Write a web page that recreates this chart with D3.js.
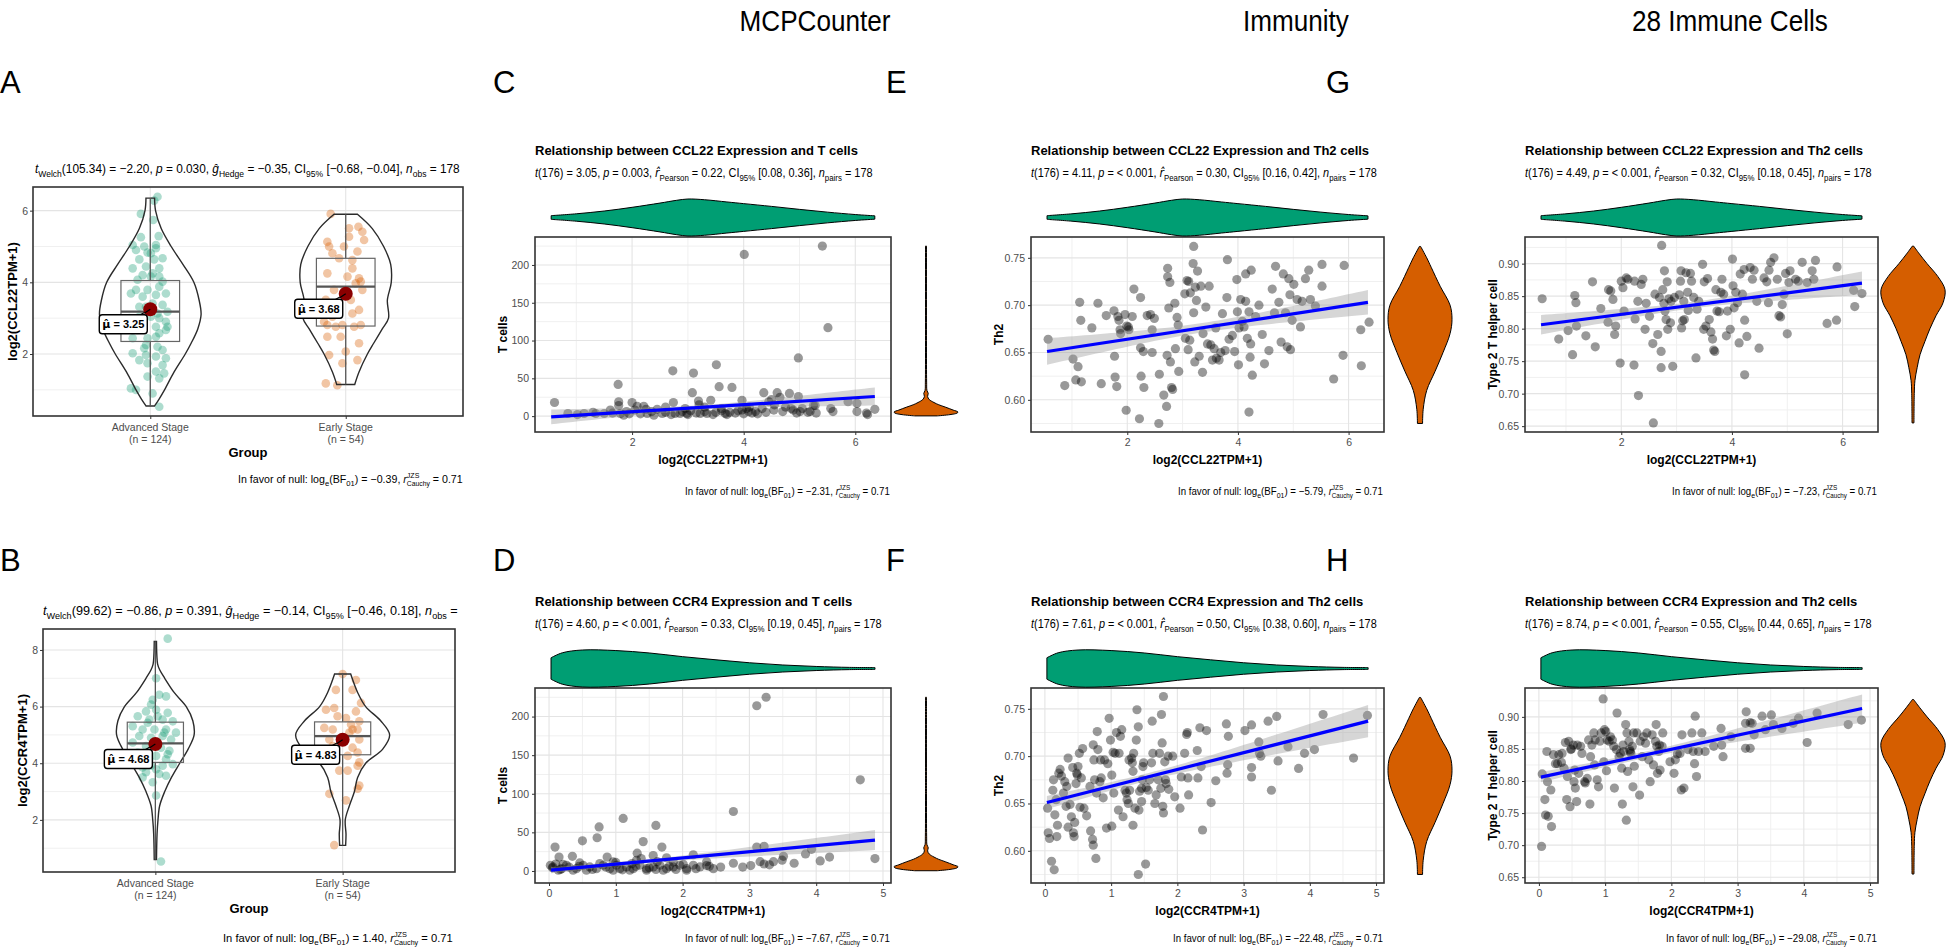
<!DOCTYPE html>
<html><head><meta charset="utf-8">
<script src="https://cdn.jsdelivr.net/npm/d3@7"></script>
<style>body{margin:0;background:#fff}svg{display:block;font-family:"Liberation Sans",Arial,Helvetica,sans-serif}</style>
</head><body>
<script>
// ---------------- DATA ----------------
const columnHeaders = ["MCPCounter", "Immunity", "28 Immune Cells"];
const panelLetters = ["A","B","C","D","E","F","G","H"];
const groupNames = ["Advanced Stage", "Early Stage"];
const groupN = [124, 54];

// box stats: [min, q1, median, q3, max, mean]
const statsA = [[0.55,2.35,3.18,4.05,6.35,3.25],[1.15,2.78,3.88,4.67,5.9,3.68]];
const statsB = [[0.6,4.03,4.70,5.45,8.3,4.68],[1.1,4.3,4.96,5.46,7.15,4.83]];

// violin profiles [value, half-width in category units]
const violinAAdv = [[6.35,0.022],[6.0,0.027],[5.5,0.056],[5.0,0.107],[4.5,0.167],[4.0,0.223],[3.5,0.25],[3.1,0.26],[2.7,0.243],[2.3,0.209],[2.0,0.179],[1.5,0.122],[1.0,0.073],[0.75,0.046],[0.55,0.022]];
const violinAEarly = [[5.9,0.06],[5.5,0.136],[5.0,0.194],[4.5,0.23],[4.0,0.233],[3.5,0.213],[3.0,0.219],[2.7,0.187],[2.3,0.143],[2.0,0.111],[1.5,0.068],[1.15,0.046]];
const violinBAdv = [[8.3,0.006],[7.8,0.008],[7.5,0.012],[7.3,0.023],[7.0,0.05],[6.5,0.1],[6.0,0.165],[5.5,0.2],[5.0,0.207],[4.5,0.175],[4.0,0.13],[3.5,0.086],[3.0,0.05],[2.5,0.023],[2.0,0.014],[1.5,0.009],[0.6,0.006]];
const violinBEarly = [[7.15,0.043],[6.5,0.08],[6.0,0.123],[5.5,0.203],[5.0,0.251],[4.5,0.214],[4.0,0.123],[3.5,0.08],[3.0,0.063],[2.5,0.036],[2.0,0.014],[1.5,0.018],[1.1,0.016]];

// jittered observations [offset (category units), value]
const ptsAAdv = [[0.037,6.39],[0.02,6.28],[-0.048,5.91],[0.015,5.74],[0.043,5.29],[-0.048,5.26],[-0.09,5.04],[0.029,5.04],[0.029,4.95],[-0.014,4.83],[-0.056,4.64],[0.02,4.64],[0.063,4.67],[-0.09,4.39],[-0.022,4.44],[0.046,4.39],[0.012,4.25],[-0.039,4.2],[-0.065,4.07],[0.003,4.16],[0.063,4.02],[-0.073,3.79],[-0.014,3.79],[0.046,3.88],[-0.099,3.69],[-0.039,3.6],[0.029,3.65],[0.08,3.69],[-0.022,3.32],[0.012,3.41],[0.037,3.13],[0.046,3.0],[0.08,2.9],[0.088,2.76],[-0.056,3.04],[-0.107,3.0],[-0.039,2.81],[0.029,2.76],[0.08,2.67],[-0.014,2.44],[0.029,2.48],[-0.09,2.44],[0.046,2.58],[-0.022,2.25],[-0.031,2.16],[0.037,2.2],[0.063,2.11],[-0.09,2.02],[-0.022,1.97],[0.029,1.93],[0.08,1.88],[-0.056,1.83],[-0.014,1.74],[0.063,1.69],[0.029,1.51],[0.071,1.46],[-0.099,1.04],[-0.073,1.0],[0.012,0.9],[0.046,0.53],[0.003,4.81],[-0.031,5.0],[-0.073,4.9],[0.046,4.16],[-0.056,3.32],[0.063,3.37],[-0.065,2.67],[0.088,3.18],[0.003,3.04],[-0.014,1.37],[0.046,1.32]];
const ptsAEarly = [[-0.077,5.91],[0.017,5.51],[0.065,5.55],[0.085,5.41],[0.094,5.18],[-0.094,5.13],[-0.085,5.0],[-0.009,5.0],[-0.068,4.81],[-0.034,4.67],[0.06,4.86],[0.034,4.39],[-0.094,4.25],[0.009,4.16],[0.068,4.11],[0.051,3.97],[0.077,4.02],[0.085,3.79],[-0.06,3.79],[-0.102,3.51],[0.068,3.23],[0.034,3.13],[-0.068,3.04],[-0.094,2.81],[-0.051,2.76],[-0.017,2.81],[0.043,2.76],[-0.111,2.9],[-0.026,2.48],[-0.094,2.48],[0.068,2.3],[0.0,2.07],[-0.085,1.97],[0.06,1.83],[-0.017,1.74],[-0.102,1.18],[-0.043,1.13],[0.017,5.27],[0.034,4.62],[-0.051,3.13],[0.026,3.51],[0.077,2.81]];
const ptsBAdv = [[0.066,8.4],[0.004,7.0],[0.021,6.42],[0.057,6.36],[-0.014,6.24],[-0.05,5.83],[0.004,5.89],[0.066,5.78],[-0.094,5.66],[-0.032,5.54],[0.039,5.54],[0.093,5.48],[-0.121,5.31],[-0.068,5.19],[-0.005,5.19],[0.057,5.19],[0.11,5.08],[-0.086,4.96],[-0.023,4.9],[0.039,4.96],[0.084,4.84],[-0.121,4.73],[-0.05,4.61],[0.03,4.55],[0.075,4.44],[-0.068,4.26],[0.004,4.26],[0.057,4.14],[-0.086,4.03],[-0.023,3.91],[0.039,3.91],[0.093,3.97],[-0.05,3.68],[0.021,3.62],[0.057,3.56],[-0.014,3.33],[-0.068,3.5],[0.004,2.86],[0.03,0.53],[-0.023,6.07],[-0.041,5.43],[0.012,5.66],[0.048,5.08],[-0.014,4.67],[-0.094,4.38],[0.066,4.32],[-0.032,4.14],[0.004,3.79],[-0.068,3.85]];
const ptsBEarly = [[0,7.15],[0.071,6.94],[-0.036,6.59],[0.053,6.59],[0.098,6.13],[-0.089,5.89],[-0.045,5.95],[0.071,5.83],[0.018,5.6],[0.089,5.48],[-0.098,5.25],[-0.053,5.19],[0.053,5.19],[0.08,5.19],[0.036,5.08],[0.089,4.84],[0,4.84],[-0.053,4.61],[0.053,4.55],[0.08,4.38],[0.027,4.26],[0.089,4.03],[0.08,3.91],[-0.018,3.74],[0.027,3.74],[0.089,3.21],[0.08,3.1],[-0.071,2.92],[0.018,2.69],[-0.045,1.11],[-0.027,5.66],[0.045,5.37],[-0.071,4.84]];

// group-comparison statistics (text)
const welchA = ["105.34","−2.20","0.030","−0.35","−0.68","−0.04","178","−0.39"];
const welchB = ["99.62","−0.86","0.391","−0.14","−0.46","0.18","","1.40"];

// scatter observations [x, y]
const ptsC = [[0.61,18],[0.85,3.5],[1.02,2],[1.14,3.5],[1.35,3.5],[1.5,3.5],[1.61,8],[1.75,42],[1.76,19],[1.76,14],[1.79,3.5],[1.85,1.3],[2.0,18],[2.09,13],[2.21,13],[2.27,3.5],[2.39,1.3],[2.54,3.5],[2.73,60],[2.74,18],[2.77,3.5],[2.86,3.5],[2.98,3.5],[3.08,31],[3.1,57],[3.19,20],[3.22,3.5],[3.34,3.5],[3.41,21],[3.51,68],[3.56,39],[3.67,3.5],[3.79,38],[3.97,21],[4.01,214],[3.97,8],[4.09,6],[4.21,6],[4.33,10],[4.36,31],[4.45,19],[4.54,8],[4.6,31],[4.82,30],[4.98,77],[4.98,26],[4.89,8],[5.01,6],[5.19,6],[5.28,14],[5.41,225],[5.51,117],[5.56,10],[5.87,19],[6.03,17],[6.03,6],[6.2,4],[6.35,9],[2.6,5],[2.7,2],[2.9,6],[3.0,2],[3.05,7],[3.15,4],[3.3,6],[3.45,2],[3.5,5],[3.6,7],[3.7,2],[3.75,5],[3.85,4],[3.9,7],[4.0,3],[4.05,10],[4.15,4],[4.25,3],[4.4,5],[4.7,6],[4.75,12],[4.95,4],[5.05,10],[5.25,14],[5.3,4],[1.9,6],[2.05,8],[2.15,3],[2.35,6],[2.45,9],[1.3,5],[1.65,4],[1.95,3],[2.25,9],[2.6,12],[3.3,12],[3.6,10],[4.1,12],[4.55,15],[4.65,25],[4.5,22],[3.2,15],[2.95,10],[5.15,5],[4.85,10],[5.6,6],[6.22,2]];
const ptsD = [[3.11,214],[3.25,225],[4.66,118],[2.76,77],[1.11,68],[1.6,59],[0.75,57],[0.5,39],[0.72,43],[1.41,38],[0.09,31],[1.69,31],[1.32,23],[0.15,18],[0.35,19],[0.87,18],[1.56,20],[1.76,17],[2.16,21],[3.11,31],[3.22,32],[3.51,19],[3.84,22],[3.93,28],[4.06,13],[4.2,18],[3.67,10],[3.36,12],[3.49,14],[3.16,12],[3.22,9],[3.02,7],[2.76,10],[2.57,5],[2.36,12],[2.36,7],[4.88,16],[0.02,7.4],[0.06,5.2],[0.19,3],[0.26,7.4],[0.41,3],[0.51,7.4],[0.61,5.2],[0.71,3],[0.81,7.4],[0.91,3],[1.01,7.4],[1.06,3],[1.16,5.2],[1.26,3],[1.36,7.4],[1.46,3],[1.56,5.2],[1.66,7.4],[1.76,3],[1.86,5.2],[1.96,7.4],[2.06,3],[2.16,7.4],[2.26,5.2],[2.46,3],[0.14,0.9],[0.36,0.9],[0.56,0.9],[0.96,0.9],[1.21,0.9],[1.46,0.9],[1.71,0.9],[2.06,0.9],[0.96,11.7],[1.24,9.5],[1.31,13.9],[0.76,9.5],[0.46,10.4],[0.21,8.7],[1.86,11.7],[2.01,8.7],[0.3,5],[0.65,2],[0.85,5],[1.1,1.5],[1.3,6],[1.5,4],[1.6,2],[1.8,6],[1.9,2],[2.2,3],[2.4,6],[2.9,5],[3.3,8],[0.05,4],[0.1,9],[0.17,2],[0.45,6],[1.0,11],[1.38,16],[1.62,12]];
const ptsE = [[0.57,0.664],[0.87,0.615],[1.02,0.643],[1.07,0.621],[1.11,0.635],[1.14,0.703],[1.16,0.684],[1.17,0.619],[1.36,0.676],[1.47,0.702],[1.53,0.617],[1.62,0.689],[1.76,0.694],[1.77,0.646],[1.78,0.624],[1.81,0.614],[1.83,0.688],[1.85,0.684],[1.87,0.674],[1.88,0.670],[1.96,0.690],[1.99,0.678],[2.02,0.677],[2.03,0.674],[2.09,0.688],[2.12,0.717],[2.24,0.708],[2.24,0.655],[2.25,0.625],[2.29,0.651],[2.30,0.613],[2.36,0.689],[2.42,0.690],[2.45,0.650],[2.45,0.674],[2.49,0.686],[2.58,0.627],[2.66,0.605],[2.71,0.593],[2.72,0.647],[2.73,0.730],[2.73,0.739],[2.75,0.697],[2.77,0.724],[2.78,0.640],[2.80,0.613],[2.82,0.611],[2.86,0.702],[2.87,0.654],[2.90,0.687],[2.92,0.679],[2.93,0.630],[3.04,0.712],[3.05,0.665],[3.08,0.726],[3.10,0.653],[3.11,0.725],[3.13,0.663],[3.14,0.713],[3.19,0.744],[3.20,0.692],[3.22,0.640],[3.23,0.719],[3.25,0.705],[3.27,0.736],[3.30,0.646],[3.33,0.720],[3.36,0.629],[3.37,0.670],[3.42,0.698],[3.45,0.659],[3.48,0.720],[3.51,0.658],[3.54,0.642],[3.57,0.654],[3.60,0.676],[3.61,0.644],[3.66,0.642],[3.69,0.650],[3.72,0.691],[3.77,0.652],[3.80,0.708],[3.81,0.748],[3.84,0.664],[3.90,0.668],[3.94,0.651],[3.98,0.727],[3.99,0.693],[4.01,0.637],[4.02,0.676],[4.05,0.706],[4.08,0.683],[4.11,0.677],[4.14,0.704],[4.14,0.733],[4.17,0.665],[4.20,0.693],[4.20,0.587],[4.22,0.645],[4.23,0.659],[4.24,0.737],[4.26,0.626],[4.32,0.688],[4.38,0.700],[4.44,0.669],[4.48,0.638],[4.56,0.652],[4.62,0.717],[4.66,0.692],[4.68,0.741],[4.74,0.703],[4.78,0.661],[4.82,0.733],[4.86,0.692],[4.89,0.656],[4.92,0.728],[4.94,0.711],[4.95,0.653],[4.98,0.684],[5.01,0.722],[5.07,0.706],[5.13,0.677],[5.16,0.704],[5.22,0.728],[5.28,0.737],[5.31,0.706],[5.40,0.699],[5.52,0.743],[5.52,0.720],[5.73,0.622],[5.90,0.647],[5.92,0.742],[6.22,0.674],[6.23,0.636],[6.37,0.682],[3.20,0.762],[2.57,0.575],[2.22,0.580],[1.98,0.589]];
const ptsF = [[0.04,0.645],[0.05,0.619],[0.07,0.613],[0.10,0.589],[0.12,0.664],[0.13,0.675],[0.14,0.580],[0.15,0.638],[0.17,0.654],[0.18,0.615],[0.19,0.627],[0.21,0.682],[0.23,0.686],[0.25,0.679],[0.28,0.661],[0.30,0.673],[0.32,0.647],[0.33,0.668],[0.35,0.698],[0.35,0.625],[0.38,0.649],[0.40,0.636],[0.42,0.688],[0.43,0.619],[0.44,0.615],[0.45,0.630],[0.47,0.671],[0.48,0.682],[0.49,0.680],[0.50,0.689],[0.52,0.703],[0.53,0.646],[0.55,0.677],[0.57,0.708],[0.59,0.645],[0.63,0.637],[0.68,0.668],[0.69,0.621],[0.72,0.612],[0.73,0.606],[0.73,0.712],[0.74,0.696],[0.75,0.675],[0.77,0.592],[0.78,0.661],[0.79,0.726],[0.80,0.707],[0.83,0.673],[0.84,0.696],[0.85,0.677],[0.88,0.656],[0.90,0.696],[0.93,0.624],[0.95,0.692],[0.97,0.740],[0.99,0.717],[1.01,0.680],[1.01,0.626],[1.03,0.704],[1.04,0.661],[1.06,0.703],[1.08,0.725],[1.11,0.643],[1.12,0.703],[1.14,0.721],[1.16,0.728],[1.18,0.636],[1.21,0.664],[1.23,0.661],[1.24,0.654],[1.26,0.650],[1.27,0.696],[1.28,0.664],[1.31,0.698],[1.32,0.693],[1.33,0.627],[1.33,0.684],[1.34,0.703],[1.36,0.645],[1.38,0.717],[1.39,0.749],[1.41,0.575],[1.41,0.731],[1.42,0.643],[1.43,0.663],[1.46,0.652],[1.46,0.666],[1.47,0.675],[1.48,0.689],[1.49,0.693],[1.52,0.586],[1.53,0.667],[1.56,0.664],[1.58,0.675],[1.61,0.693],[1.62,0.737],[1.63,0.703],[1.66,0.650],[1.68,0.659],[1.71,0.675],[1.73,0.703],[1.75,0.666],[1.76,0.744],[1.77,0.714],[1.78,0.647],[1.79,0.640],[1.79,0.763],[1.81,0.694],[1.82,0.675],[1.83,0.671],[1.86,0.700],[1.87,0.665],[1.93,0.700],[1.96,0.657],[2.04,0.645],[2.06,0.678],[2.11,0.703],[2.14,0.723],[2.15,0.725],[2.16,0.677],[2.17,0.659],[2.30,0.706],[2.31,0.677],[2.34,0.730],[2.36,0.689],[2.38,0.622],[2.44,0.727],[2.51,0.651],[2.58,0.674],[2.74,0.734],[2.75,0.682],[2.76,0.691],[2.77,0.721],[3.02,0.727],[3.12,0.733],[3.12,0.688],[3.12,0.678],[3.23,0.715],[3.24,0.703],[3.26,0.700],[3.37,0.737],[3.42,0.664],[3.50,0.742],[3.52,0.695],[3.67,0.710],[3.83,0.687],[3.92,0.703],[4.07,0.707],[4.20,0.744],[4.66,0.698],[4.87,0.743]];
const ptsG = [[0.57,0.846],[0.87,0.784],[1.04,0.797],[1.12,0.760],[1.16,0.851],[1.18,0.840],[1.19,0.804],[1.36,0.789],[1.48,0.872],[1.53,0.772],[1.63,0.831],[1.76,0.810],[1.77,0.860],[1.81,0.858],[1.85,0.845],[1.88,0.791],[1.90,0.804],[1.98,0.747],[2.00,0.873],[2.03,0.863],[2.05,0.827],[2.09,0.878],[2.12,0.876],[2.23,0.744],[2.24,0.873],[2.25,0.815],[2.30,0.842],[2.31,0.697],[2.36,0.868],[2.39,0.876],[2.43,0.799],[2.45,0.839],[2.51,0.819],[2.57,0.777],[2.58,0.655],[2.61,0.853],[2.66,0.791],[2.69,0.848],[2.72,0.765],[2.72,0.740],[2.73,0.928],[2.75,0.860],[2.77,0.839],[2.78,0.889],[2.79,0.827],[2.81,0.814],[2.83,0.872],[2.84,0.799],[2.86,0.846],[2.89,0.809],[2.90,0.842],[2.93,0.742],[2.96,0.848],[3.05,0.852],[3.07,0.873],[3.08,0.889],[3.09,0.801],[3.11,0.812],[3.13,0.842],[3.14,0.814],[3.17,0.886],[3.20,0.856],[3.21,0.828],[3.25,0.885],[3.27,0.873],[3.31,0.848],[3.35,0.755],[3.37,0.830],[3.40,0.842],[3.47,0.899],[3.49,0.799],[3.50,0.872],[3.53,0.804],[3.56,0.877],[3.59,0.814],[3.62,0.795],[3.65,0.784],[3.67,0.767],[3.69,0.765],[3.71,0.860],[3.73,0.827],[3.77,0.826],[3.80,0.856],[3.82,0.876],[3.85,0.853],[3.90,0.789],[3.92,0.827],[3.97,0.799],[4.01,0.907],[4.02,0.866],[4.04,0.832],[4.07,0.856],[4.10,0.840],[4.13,0.778],[4.15,0.884],[4.19,0.853],[4.22,0.891],[4.23,0.813],[4.23,0.729],[4.27,0.788],[4.33,0.894],[4.37,0.876],[4.40,0.890],[4.45,0.842],[4.49,0.770],[4.58,0.878],[4.63,0.872],[4.66,0.840],[4.67,0.890],[4.70,0.902],[4.76,0.909],[4.82,0.876],[4.85,0.820],[4.88,0.818],[4.91,0.837],[4.94,0.853],[4.97,0.885],[5.00,0.792],[5.03,0.871],[5.05,0.889],[5.15,0.876],[5.20,0.873],[5.27,0.902],[5.36,0.871],[5.45,0.889],[5.48,0.876],[5.51,0.905],[5.72,0.808],[5.89,0.813],[5.90,0.895],[6.20,0.859],[6.22,0.834],[6.35,0.854]];
const ptsH = [[0.04,0.698],[0.05,0.811],[0.09,0.771],[0.10,0.747],[0.12,0.846],[0.13,0.799],[0.14,0.745],[0.18,0.786],[0.19,0.729],[0.22,0.841],[0.25,0.827],[0.28,0.827],[0.30,0.841],[0.34,0.829],[0.35,0.843],[0.38,0.820],[0.40,0.860],[0.42,0.771],[0.43,0.807],[0.45,0.862],[0.47,0.760],[0.48,0.849],[0.49,0.850],[0.52,0.856],[0.53,0.799],[0.54,0.817],[0.55,0.789],[0.57,0.768],[0.58,0.856],[0.60,0.812],[0.63,0.854],[0.65,0.843],[0.69,0.799],[0.70,0.797],[0.73,0.804],[0.75,0.864],[0.77,0.764],[0.78,0.838],[0.80,0.856],[0.83,0.875],[0.84,0.825],[0.85,0.864],[0.88,0.802],[0.90,0.791],[0.92,0.862],[0.94,0.875],[0.97,0.928],[0.98,0.830],[0.99,0.880],[1.01,0.877],[1.02,0.816],[1.03,0.864],[1.06,0.862],[1.08,0.869],[1.11,0.864],[1.13,0.854],[1.14,0.789],[1.17,0.849],[1.18,0.906],[1.21,0.838],[1.23,0.843],[1.25,0.820],[1.26,0.764],[1.27,0.856],[1.28,0.846],[1.31,0.888],[1.32,0.739],[1.33,0.875],[1.34,0.815],[1.36,0.862],[1.37,0.849],[1.38,0.846],[1.39,0.843],[1.41,0.854],[1.42,0.791],[1.43,0.875],[1.44,0.823],[1.48,0.875],[1.52,0.778],[1.53,0.862],[1.56,0.838],[1.58,0.869],[1.61,0.859],[1.63,0.875],[1.66,0.833],[1.68,0.799],[1.71,0.872],[1.73,0.825],[1.76,0.862],[1.77,0.888],[1.78,0.854],[1.79,0.812],[1.81,0.846],[1.82,0.856],[1.83,0.817],[1.86,0.854],[1.87,0.875],[1.98,0.830],[2.04,0.812],[2.06,0.833],[2.09,0.842],[2.13,0.843],[2.15,0.786],[2.16,0.872],[2.19,0.789],[2.25,0.849],[2.31,0.875],[2.33,0.846],[2.35,0.827],[2.36,0.901],[2.38,0.807],[2.41,0.846],[2.46,0.875],[2.51,0.846],[2.64,0.854],[2.75,0.882],[2.76,0.856],[2.78,0.838],[2.90,0.869],[3.12,0.851],[3.12,0.890],[3.13,0.908],[3.19,0.891],[3.19,0.851],[3.22,0.890],[3.25,0.872],[3.37,0.901],[3.42,0.880],[3.51,0.903],[3.54,0.888],[3.67,0.882],[3.84,0.890],[3.92,0.898],[4.05,0.860],[4.20,0.906],[4.67,0.888],[4.87,0.895]];

// fitted regression lines [x0, y0, x1, y1] and CI half widths [left, centre, right, x at centre]
const fitC = [0.55,-1,6.35,26],      ciC = [9.7,3,12,3.3];
const fitD = [0.03,1,4.88,40],       ciD = [4,2.5,13,1.5];
const fitE = [0.55,0.651,6.35,0.703], ciE = [0.014,0.005,0.013,3.3];
const fitF = [0.03,0.651,4.88,0.737], ciF = [0.007,0.004,0.017,1.6];
const fitG = [0.55,0.806,6.35,0.870], ciG = [0.015,0.005,0.018,3.3];
const fitH = [0.03,0.806,4.88,0.913], ciH = [0.008,0.005,0.022,1.6];

// marginal densities [value, relative width]
const densCCL22 = [[0.55,0.1],[1.0,0.2],[1.5,0.35],[2.0,0.55],[2.5,0.78],[2.8,0.93],[3.0,1],[3.3,0.96],[3.7,0.84],[4.0,0.75],[4.5,0.6],[5.0,0.44],[5.5,0.29],[6.0,0.16],[6.35,0.09]];
const densCCR4 = [[0.03,0.58],[0.2,0.85],[0.5,1],[1.0,0.97],[1.5,0.84],[2.0,0.64],[2.5,0.47],[3.0,0.31],[3.5,0.19],[4.0,0.11],[4.5,0.06],[4.88,0.05]];
const densTcells = [[0.3,0.35],[2,0.75],[4,0.97],[5.5,1],[8,0.85],[12,0.6],[15,0.4],[18,0.25],[22,0.1],[26,0.05],[30,0.07],[34,0.03],[45,0.02],[100,0.015],[225,0.015]];
const densTh2 = [[0.575,0.08],[0.59,0.1],[0.61,0.21],[0.63,0.47],[0.65,0.72],[0.67,0.94],[0.685,1],[0.70,0.94],[0.72,0.63],[0.74,0.35],[0.75,0.21],[0.762,0.02]];
const densType2 = [[0.655,0.03],[0.70,0.04],[0.72,0.06],[0.74,0.13],[0.76,0.22],[0.78,0.37],[0.80,0.53],[0.82,0.72],[0.84,0.94],[0.86,1],[0.88,0.78],[0.90,0.44],[0.915,0.2],[0.927,0.02]];

// axis domains & ticks
const domCCL22 = [0.26,6.64], domCCR4 = [-0.21,5.12];
const domTcellsTop = [-21,237], domTcellsBot = [-15.6,237];
const domTh2 = [0.566,0.772], domType2Top = [0.641,0.941], domType2Bot = [0.641,0.945];
const ticksCCL22 = [2,4,6], minorCCL22 = [1,3,5];
const ticksCCR4 = [0,1,2,3,4,5], minorCCR4 = [0.5,1.5,2.5,3.5,4.5];
const ticksTcells = [0,50,100,150,200], minorTcells = [25,75,125,175,225];
const ticksTh2 = [0.60,0.65,0.70,0.75], minorTh2 = [0.575,0.625,0.675,0.725];
const ticksType2 = [0.65,0.70,0.75,0.80,0.85,0.90], minorType2 = [0.675,0.725,0.775,0.825,0.875,0.925];

// correlation statistics text: [t, p, r, ciLow, ciHigh, logBF]
const corrC = ["3.05","0.003","0.22","0.08","0.36","−2.31"];
const corrD = ["4.60","< 0.001","0.33","0.19","0.45","−7.67"];
const corrE = ["4.11","< 0.001","0.30","0.16","0.42","−5.79"];
const corrF = ["7.61","< 0.001","0.50","0.38","0.60","−22.48"];
const corrG = ["4.49","< 0.001","0.32","0.18","0.45","−7.23"];
const corrH = ["8.74","< 0.001","0.55","0.44","0.65","−29.08"];

// ---------------- DRAWING ----------------
const W = 1946, H = 951;
const FONT = "'Liberation Sans', Arial, Helvetica, sans-serif";
const HATFONT = "'DejaVu Sans', 'Liberation Sans', sans-serif";
const svg = d3.select("body").append("svg").attr("width", W).attr("height", H);
svg.append("rect").attr("width", W).attr("height", H).attr("fill", "#fff");

const GRID_MAJ = "#E4E4E4", GRID_MIN = "#F0F0F0", BORDER = "#333333", TICKTXT = "#4D4D4D";

function rich(parent, segs, o) {
  const fs = o.fs;
  const g = parent.append("g");
  const t = g.append("text").attr("font-size", fs).attr("fill", o.fill || "#000");
  if (o.bold) t.attr("font-weight", "bold");
  let shift = 0;
  segs.forEach(s => {
    if (typeof s === "string") s = {t: s};
    let target = 0, size = fs;
    if (s.sub) { target = fs * 0.3; size = fs * 0.72; }
    if (s.sup) { target = -fs * 0.42; size = fs * 0.66; }
    const ts = t.append("tspan").text(s.t).attr("font-size", size);
    if (target - shift !== 0) ts.attr("dy", target - shift);
    if (s.i) ts.attr("font-style", "italic");
    if (s.hat) ts.attr("font-family", HATFONT);
    shift = target;
    if (s.under) {
      const w = ts.node().getComputedTextLength();
      const t2 = fs * 0.3;
      t.append("tspan").text(s.under).attr("font-size", fs * 0.64).attr("dx", -w).attr("dy", t2 - shift);
      shift = t2;
    }
  });
  const bb = t.node().getBBox();
  const sx = o.width ? o.width / bb.width : (o.sx || 1);
  const fw = bb.width * sx;
  let x0 = o.x;
  if (o.anchor === "end") x0 = o.x - fw;
  else if (o.anchor === "middle") x0 = o.x - fw / 2;
  g.attr("transform", `translate(${x0 - bb.x * sx},${o.y}) scale(${sx},1)`);
  return g;
}

function plainText(x, y, str, o) {
  return svg.append("text").attr("x", x).attr("y", y).text(str)
    .attr("font-size", o.fs).attr("font-weight", o.bold ? "bold" : null)
    .attr("fill", o.fill || "#000").attr("text-anchor", o.anchor || "start");
}

function rotLabel(cx, cy, str, fs) {
  svg.append("text").attr("transform", `translate(${cx},${cy}) rotate(-90)`)
    .attr("text-anchor", "middle").attr("dominant-baseline", "central")
    .attr("font-size", fs).attr("font-weight", "bold").text(str);
}

function styleAxis(a) {
  a.attr("font-family", FONT).attr("font-size", 10.5);
  a.select(".domain").remove();
  a.selectAll("line").attr("stroke", BORDER).attr("stroke-width", 1);
  a.selectAll("text").attr("fill", TICKTXT);
}

function captionSegs(bf) {
  return ["In favor of null: log", {t: "e", sub: 1}, "(BF", {t: "01", sub: 1}, ") = " + bf + ", ", {t: "r", i: 1}, {t: "JZS", sup: 1, under: "Cauchy"}, " = 0.71"];
}

// ---- Group comparison panels (A, B)
function groupPanel(c) {
  const [L, R, T, B] = c.box;
  const x = d3.scaleLinear().domain([0.4, 2.6]).range([L, R]);
  const y = d3.scaleLinear().domain(c.yDom).range([B, T]);
  const sp = x(2) - x(1);
  const g = svg.append("g");
  c.yMinor.forEach(v => g.append("line").attr("x1", L).attr("x2", R).attr("y1", y(v)).attr("y2", y(v)).attr("stroke", GRID_MIN).attr("stroke-width", 1));
  c.yTicks.forEach(v => g.append("line").attr("x1", L).attr("x2", R).attr("y1", y(v)).attr("y2", y(v)).attr("stroke", GRID_MAJ).attr("stroke-width", 1.1));
  [1, 2].forEach(v => g.append("line").attr("x1", x(v)).attr("x2", x(v)).attr("y1", T).attr("y2", B).attr("stroke", GRID_MAJ).attr("stroke-width", 1.1));

  c.groups.forEach((gr, i) => {
    const cx = x(i + 1);
    g.selectAll(null).data(gr.pts).enter().append("circle")
      .attr("cx", d => cx + d[0] * sp).attr("cy", d => y(d[1])).attr("r", 4.3)
      .attr("fill", gr.color).attr("fill-opacity", 0.36);
    const area = d3.area().curve(d3.curveCatmullRom.alpha(0.5))
      .y(d => y(d[0])).x0(d => cx - d[1] * sp).x1(d => cx + d[1] * sp);
    g.append("path").attr("d", area(gr.violin)).attr("fill", "none").attr("stroke", "#2b2b2b").attr("stroke-width", 1.4);
    const [mn, q1, md, q3, mx] = gr.stats;
    const bw = 0.15 * sp;
    g.append("line").attr("x1", cx).attr("x2", cx).attr("y1", y(mx)).attr("y2", y(q3)).attr("stroke", "#555").attr("stroke-width", 1.3);
    g.append("line").attr("x1", cx).attr("x2", cx).attr("y1", y(q1)).attr("y2", y(mn)).attr("stroke", "#555").attr("stroke-width", 1.3);
    g.append("rect").attr("x", cx - bw).attr("width", 2 * bw).attr("y", y(q3)).attr("height", y(q1) - y(q3))
      .attr("fill", "none").attr("stroke", "#666").attr("stroke-width", 1.2);
    g.append("line").attr("x1", cx - bw).attr("x2", cx + bw).attr("y1", y(md)).attr("y2", y(md)).attr("stroke", "#555").attr("stroke-width", 2.2);
  });
  c.groups.forEach((gr, i) => {
    const cx = x(i + 1), cy = y(gr.stats[5]);
    const lx = cx - 27, ly = cy + 15;
    g.append("line").attr("x1", lx).attr("y1", ly).attr("x2", cx).attr("y2", cy).attr("stroke", "#000").attr("stroke-width", 1.2);
    g.append("circle").attr("cx", cx).attr("cy", cy).attr("r", 7).attr("fill", "#8B0000");
    g.append("line").attr("x1", cx - 6).attr("y1", cy + 4).attr("x2", cx).attr("y2", cy).attr("stroke", "#000").attr("stroke-width", 1.2);
    g.append("rect").attr("x", lx - 24).attr("y", ly - 9.5).attr("width", 48).attr("height", 19).attr("rx", 3)
      .attr("fill", "#fff").attr("stroke", "#000").attr("stroke-width", 1.4);
    const lt = g.append("text").attr("x", lx).attr("y", ly + 4).attr("text-anchor", "middle").attr("font-size", 11).attr("font-weight", "bold");
    lt.append("tspan").attr("font-family", HATFONT).text("μ\u0302");
    lt.append("tspan").text(" = " + gr.stats[5].toFixed(2));
  });
  g.append("rect").attr("x", L).attr("y", T).attr("width", R - L).attr("height", B - T).attr("fill", "none").attr("stroke", BORDER).attr("stroke-width", 1.6);
  svg.append("g").attr("transform", `translate(${L},0)`).call(d3.axisLeft(y).tickValues(c.yTicks).tickSize(3).tickPadding(2).tickFormat(d3.format("d"))).call(styleAxis);
  svg.append("g").attr("transform", `translate(0,${B})`).call(d3.axisBottom(x).tickValues([1, 2]).tickSize(3).tickFormat("")).call(styleAxis);
  groupNames.forEach((nm, i) => {
    plainText(x(i + 1), B + 14.5, nm, {fs: 10.5, fill: TICKTXT, anchor: "middle"});
    plainText(x(i + 1), B + 27, "(n = " + groupN[i] + ")", {fs: 10.5, fill: TICKTXT, anchor: "middle"});
  });
  plainText((L + R) / 2, B + 41, "Group", {fs: 13, bold: 1, anchor: "middle"});
  rotLabel(c.ylabX, (T + B) / 2, c.ylab, 13);
  const s = c.stat;
  const sub = [{t: "t", i: 1}, {t: "Welch", sub: 1}, "(" + s[0] + ") = " + s[1] + ", ", {t: "p", i: 1}, " = " + s[2] + ", ",
    {t: "ĝ", i: 1}, {t: "Hedge", sub: 1}, " = " + s[3] + ", CI", {t: "95%", sub: 1}, " [" + s[4] + ", " + s[5] + "], ",
    {t: "n", i: 1}, {t: "obs", sub: 1}, " =" + (s[6] ? " " + s[6] : "")];
  rich(svg, sub, {fs: 12.5, x: c.subX[0], width: c.subX[1] - c.subX[0], y: T - 14});
  rich(svg, captionSegs(s[7]), {fs: 11, x: c.capX[1], width: c.capX[1] - c.capX[0], anchor: "end", y: c.capY});
}

groupPanel({box: [33, 463, 187, 416], yDom: [0.27, 6.66], yTicks: [2, 4, 6], yMinor: [1, 3, 5],
  groups: [{pts: ptsAAdv, violin: violinAAdv, stats: statsA[0], color: "#1B9E77"}, {pts: ptsAEarly, violin: violinAEarly, stats: statsA[1], color: "#D95F02"}],
  ylab: "log2(CCL22TPM+1)", ylabX: 12.5, stat: welchA, subX: [35, 460], capX: [238, 463], capY: 483});
groupPanel({box: [43, 455, 629, 872], yDom: [0.16, 8.74], yTicks: [2, 4, 6, 8], yMinor: [1, 3, 5, 7],
  groups: [{pts: ptsBAdv, violin: violinBAdv, stats: statsB[0], color: "#1B9E77"}, {pts: ptsBEarly, violin: violinBEarly, stats: statsB[1], color: "#D95F02"}],
  ylab: "log2(CCR4TPM+1)", ylabX: 22, stat: welchB, subX: [43, 458], capX: [223, 453], capY: 942});

// ---- Scatter panels (C–H)
function scatterPanel(c) {
  const [L, R, T, B] = c.box;
  const x = d3.scaleLinear().domain(c.xDom).range([L, R]);
  const y = d3.scaleLinear().domain(c.yDom).range([B, T]);
  const g = svg.append("g");
  c.xMinor.forEach(v => g.append("line").attr("x1", x(v)).attr("x2", x(v)).attr("y1", T).attr("y2", B).attr("stroke", GRID_MIN).attr("stroke-width", 1));
  c.yMinor.filter(v => v >= c.yDom[0] && v <= c.yDom[1]).forEach(v => g.append("line").attr("x1", L).attr("x2", R).attr("y1", y(v)).attr("y2", y(v)).attr("stroke", GRID_MIN).attr("stroke-width", 1));
  c.xTicks.forEach(v => g.append("line").attr("x1", x(v)).attr("x2", x(v)).attr("y1", T).attr("y2", B).attr("stroke", GRID_MAJ).attr("stroke-width", 1.1));
  c.yTicks.forEach(v => g.append("line").attr("x1", L).attr("x2", R).attr("y1", y(v)).attr("y2", y(v)).attr("stroke", GRID_MAJ).attr("stroke-width", 1.1));

  g.selectAll(null).data(c.pts).enter().append("circle")
    .attr("cx", d => x(d[0])).attr("cy", d => y(d[1])).attr("r", 4.6)
    .attr("fill", "#000").attr("fill-opacity", 0.4);

  const [fx0, fy0, fx1, fy1] = c.fit;
  const [hl, hm, hr, xm] = c.ci;
  const line = xv => fy0 + (fy1 - fy0) * (xv - fx0) / (fx1 - fx0);
  const half = xv => {
    const e = xv < xm ? hl : hr, ref = xv < xm ? fx0 : fx1;
    const f = (xv - xm) / (ref - xm);
    return Math.sqrt(hm * hm + (e * e - hm * hm) * f * f);
  };
  const xs = d3.range(0, 61).map(i => fx0 + (fx1 - fx0) * i / 60);
  g.append("path").attr("d", d3.area().x(d => x(d)).y0(d => y(line(d) - half(d))).y1(d => y(line(d) + half(d)))(xs))
    .attr("fill", "#999").attr("fill-opacity", 0.4);
  g.append("line").attr("x1", x(fx0)).attr("y1", y(fy0)).attr("x2", x(fx1)).attr("y2", y(fy1))
    .attr("stroke", "#0000FF").attr("stroke-width", 3.2);
  g.append("rect").attr("x", L).attr("y", T).attr("width", R - L).attr("height", B - T).attr("fill", "none").attr("stroke", BORDER).attr("stroke-width", 1.6);

  // marginal violins
  const cyTop = T - 19.5, hTop = 18.5;
  svg.append("path").attr("d", d3.area().curve(d3.curveCatmullRom.alpha(0.5)).x(d => x(d[0])).y0(d => cyTop - d[1] * hTop).y1(d => cyTop + d[1] * hTop)(c.xDens))
    .attr("fill", "#009E73").attr("stroke", "#000").attr("stroke-width", 1);
  const wR = 32;
  svg.append("path").attr("d", d3.area().curve(d3.curveCatmullRom.alpha(0.5)).y(d => y(d[0])).x0(d => c.rightCx - d[1] * wR).x1(d => c.rightCx + d[1] * wR)(c.yDens))
    .attr("fill", "#D55E00").attr("stroke", "#000").attr("stroke-width", 1);

  svg.append("g").attr("transform", `translate(${L},0)`).call(d3.axisLeft(y).tickValues(c.yTicks).tickSize(3).tickPadding(3).tickFormat(d3.format(c.yfmt))).call(styleAxis);
  svg.append("g").attr("transform", `translate(0,${B})`).call(d3.axisBottom(x).tickValues(c.xTicks).tickSize(3).tickPadding(4).tickFormat(d3.format("d"))).call(styleAxis);

  plainText((L + R) / 2, B + 32, c.xlab, {fs: 12, bold: 1, anchor: "middle"});
  rotLabel(L - 32, (T + B) / 2, c.ylab, 12);
  plainText(L, T - 82, c.title, {fs: 13, bold: 1});
  const s = c.stat;
  const sub = [{t: "t", i: 1}, "(176) = " + s[0] + ", ", {t: "p", i: 1}, " = " + s[1] + ", ", {t: "r\u0302", i: 1, hat: 1}, {t: "Pearson", sub: 1},
    " = " + s[2] + ", CI", {t: "95%", sub: 1}, " [" + s[3] + ", " + s[4] + "], ", {t: "n", i: 1}, {t: "pairs", sub: 1}, " = 178"];
  rich(svg, sub, {fs: 12.5, x: L, width: c.subW, y: T - 60});
  rich(svg, captionSegs(s[5]), {fs: 11, x: R - 1, width: c.capW, anchor: "end", y: Math.min(B + 63, 942)});
}

const TOP = [237, 432], BOT = [688, 883];
const COLS = [[535, 891, 926], [1031, 1384, 1420], [1525, 1878, 1913]];
scatterPanel({box: [COLS[0][0], COLS[0][1], TOP[0], TOP[1]], rightCx: COLS[0][2], xDom: domCCL22, yDom: domTcellsTop, pts: ptsC, fit: fitC, ci: ciC,
  xTicks: ticksCCL22, xMinor: minorCCL22, yTicks: ticksTcells, yMinor: minorTcells, yfmt: "d", xDens: densCCL22, yDens: densTcells,
  xlab: "log2(CCL22TPM+1)", ylab: "T cells", title: "Relationship between CCL22 Expression and T cells", stat: corrC, subW: 338, capW: 205});
scatterPanel({box: [COLS[0][0], COLS[0][1], BOT[0], BOT[1]], rightCx: COLS[0][2], xDom: domCCR4, yDom: domTcellsBot, pts: ptsD, fit: fitD, ci: ciD,
  xTicks: ticksCCR4, xMinor: minorCCR4, yTicks: ticksTcells, yMinor: minorTcells, yfmt: "d", xDens: densCCR4, yDens: densTcells,
  xlab: "log2(CCR4TPM+1)", ylab: "T cells", title: "Relationship between CCR4 Expression and T cells", stat: corrD, subW: 347, capW: 205});
scatterPanel({box: [COLS[1][0], COLS[1][1], TOP[0], TOP[1]], rightCx: COLS[1][2], xDom: domCCL22, yDom: domTh2, pts: ptsE, fit: fitE, ci: ciE,
  xTicks: ticksCCL22, xMinor: minorCCL22, yTicks: ticksTh2, yMinor: minorTh2, yfmt: ".2f", xDens: densCCL22, yDens: densTh2,
  xlab: "log2(CCL22TPM+1)", ylab: "Th2", title: "Relationship between CCL22 Expression and Th2 cells", stat: corrE, subW: 346, capW: 205});
scatterPanel({box: [COLS[1][0], COLS[1][1], BOT[0], BOT[1]], rightCx: COLS[1][2], xDom: domCCR4, yDom: domTh2, pts: ptsF, fit: fitF, ci: ciF,
  xTicks: ticksCCR4, xMinor: minorCCR4, yTicks: ticksTh2, yMinor: minorTh2, yfmt: ".2f", xDens: densCCR4, yDens: densTh2,
  xlab: "log2(CCR4TPM+1)", ylab: "Th2", title: "Relationship between CCR4 Expression and Th2 cells", stat: corrF, subW: 346, capW: 210});
scatterPanel({box: [COLS[2][0], COLS[2][1], TOP[0], TOP[1]], rightCx: COLS[2][2], xDom: domCCL22, yDom: domType2Top, pts: ptsG, fit: fitG, ci: ciG,
  xTicks: ticksCCL22, xMinor: minorCCL22, yTicks: ticksType2, yMinor: minorType2, yfmt: ".2f", xDens: densCCL22, yDens: densType2,
  xlab: "log2(CCL22TPM+1)", ylab: "Type 2 T helper cell", title: "Relationship between CCL22 Expression and Th2 cells", stat: corrG, subW: 347, capW: 205});
scatterPanel({box: [COLS[2][0], COLS[2][1], BOT[0], BOT[1]], rightCx: COLS[2][2], xDom: domCCR4, yDom: domType2Bot, pts: ptsH, fit: fitH, ci: ciH,
  xTicks: ticksCCR4, xMinor: minorCCR4, yTicks: ticksType2, yMinor: minorType2, yfmt: ".2f", xDens: densCCR4, yDens: densType2,
  xlab: "log2(CCR4TPM+1)", ylab: "Type 2 T helper cell", title: "Relationship between CCR4 Expression and Th2 cells", stat: corrH, subW: 347, capW: 211});

// ---- Column headers and panel letters
const headerX = [815, 1296, 1730];
columnHeaders.forEach((h, i) => rich(svg, [h], {fs: 30, x: headerX[i], y: 31, anchor: "middle", sx: 0.87}));
const letterPos = [[0, 93], [0, 571], [493, 93], [493, 571], [886, 93], [886, 571], [1326, 93], [1326, 571]];
panelLetters.forEach((l, i) => plainText(letterPos[i][0], letterPos[i][1], l, {fs: 31}));
</script>
</body></html>
